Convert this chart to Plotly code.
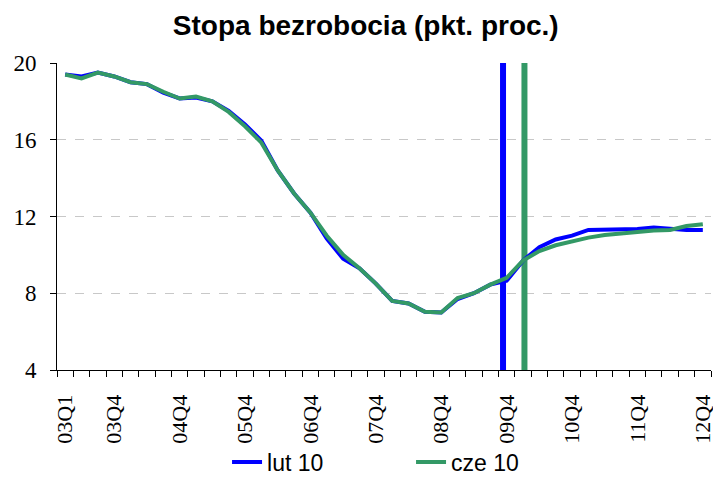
import plotly.graph_objects as go

quarters = [f"{y:02d}Q{q}" for y in range(3, 13) for q in range(1, 5)]

lut10 = [19.4, 19.3, 19.5, 19.3, 19.0, 18.9, 18.45, 18.15, 18.2, 18.0,
         17.5, 16.8, 15.95, 14.4, 13.2, 12.2, 10.85, 9.8, 9.3, 8.5,
         7.6, 7.47, 7.03, 7.0, 7.7, 8.0, 8.45, 8.65, 9.7, 10.4,
         10.8, 11.0, 11.3, 11.3, 11.3, 11.35, 11.43, 11.35, 11.3, 11.3]

cze10 = [19.4, 19.2, 19.5, 19.3, 19.0, 18.9, 18.5, 18.15, 18.25, 18.0,
         17.45, 16.7, 15.85, 14.4, 13.2, 12.2, 11.0, 10.0, 9.3, 8.5,
         7.6, 7.47, 7.03, 7.0, 7.75, 8.0, 8.45, 8.8, 9.7, 10.2,
         10.5, 10.7, 10.9, 11.04, 11.13, 11.18, 11.27, 11.3, 11.5, 11.6]

tick_labels = ["03Q1", "03Q4", "04Q4", "05Q4", "06Q4", "07Q4",
               "08Q4", "09Q4", "10Q4", "11Q4", "12Q4"]

forecast_marks = {"lut 10": "09Q4", "cze 10": "10Q1"}

BLUE = "#0000FF"
GREEN = "#339966"
SERIF = "Liberation Serif"
SANS = "Liberation Sans"

x = list(range(len(quarters)))
tickvals = [quarters.index(t) for t in tick_labels]

fig = go.Figure()

offsets = {"lut 10": -0.22, "cze 10": 0.09}
colors = {"lut 10": BLUE, "cze 10": GREEN}
for name, q in forecast_marks.items():
    xi = quarters.index(q) + offsets[name]
    fig.add_trace(go.Scatter(x=[xi, xi], y=[4, 20.15], mode="lines",
                             line=dict(color=colors[name], width=6),
                             showlegend=False, hoverinfo="skip",
                             cliponaxis=False))

fig.add_trace(go.Scatter(x=x, y=lut10, mode="lines", name="lut 10",
                         line=dict(color=BLUE, width=4)))
fig.add_trace(go.Scatter(x=x, y=cze10, mode="lines", name="cze 10",
                         line=dict(color=GREEN, width=4)))

fig.update_layout(
    width=713, height=485,
    margin=dict(l=57, r=2, t=63, b=110),
    paper_bgcolor="white", plot_bgcolor="white",
    font=dict(family=SERIF, size=22, color="black"),
    title=dict(text="<b>Stopa bezrobocia (pkt. proc.)</b>",
               x=0.513, xanchor="center", y=0.948, yanchor="middle",
               font=dict(family=SANS, size=28, color="black")),
    legend=dict(orientation="h", x=0.26, xanchor="left", y=-0.3, yanchor="middle",
                font=dict(family=SANS, size=23, color="black"),
                bgcolor="rgba(0,0,0,0)",
                entrywidthmode="pixels", entrywidth=139),
    showlegend=True,
    xaxis=dict(
        range=[-0.5, len(quarters) - 0.5], automargin=False,
        tickmode="array", tickvals=tickvals, ticktext=tick_labels,
        tickangle=-90, ticks="", ticklabelstandoff=15,
        ticklabeloverflow="allow",
        tickfont=dict(family=SERIF, size=22, color="black"),
        showline=True, linecolor="black", linewidth=1,
        showgrid=False, zeroline=False,
        minor=dict(ticks="outside", tick0=-0.5, dtick=1, ticklen=6,
                   tickcolor="black", showgrid=False),
    ),
    yaxis=dict(
        range=[4, 20], tickvals=[4, 8, 12, 16, 20], automargin=False,
        ticks="outside", ticklen=6, tickcolor="black", ticklabelstandoff=9,
        tickfont=dict(family=SERIF, size=23, color="black"),
        showline=True, linecolor="black", linewidth=1,
        showgrid=True, gridcolor="#c8c8c8", griddash="dash", gridwidth=1,
        zeroline=False,
    ),
)

fig.write_html("out.html", config={"displayModeBar": False},
               post_script="document.body.style.margin='0';")
